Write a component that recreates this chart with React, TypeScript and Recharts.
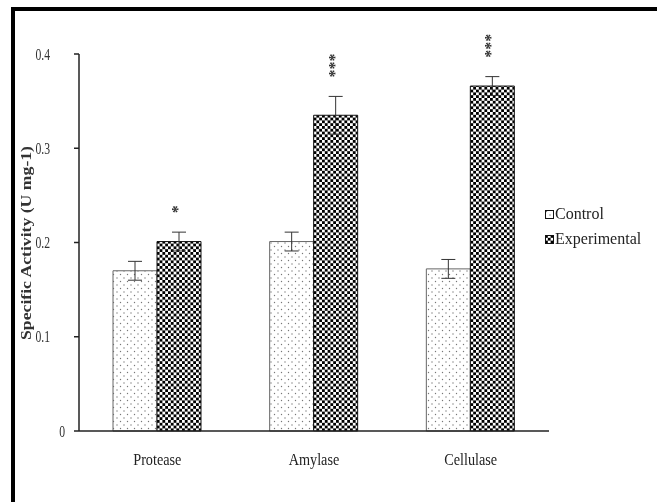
import { BarChart, Bar, XAxis, YAxis, ErrorBar, LabelList } from 'recharts';

const categories = ['Protease', 'Amylase', 'Cellulase'];
const controlValues = [0.17, 0.201, 0.172];
const controlErrors = [0.01, 0.01, 0.01];
const experimentalValues = [0.201, 0.335, 0.366];
const experimentalErrors = [0.01, 0.02, 0.01];
const significance = ['*', '***', '***'];
const yTicks = [0, 0.1, 0.2, 0.3, 0.4];
const seriesNames = ['Control', 'Experimental'];

const data = categories.map((name, i) => ({
  name,
  control: controlValues[i],
  controlErr: controlErrors[i],
  experimental: experimentalValues[i],
  experimentalErr: experimentalErrors[i],
  sig: significance[i],
}));

const serif = '"Liberation Serif", "Times New Roman", serif';

const YTick = (props: any) => {
  const { x, y, payload } = props;
  const label = String(payload.value);
  const dx = label === '0' ? -7 : -22;
  return (
    <text
      x={x + dx}
      y={y}
      dy={5}
      textAnchor="end"
      fontFamily={serif}
      fontSize={15}
      fill="#333"
      transform={`translate(${x + dx} ${y}) scale(0.78 1.15) translate(${-(x + dx)} ${-y})`}
    >
      {label}
    </text>
  );
};

const XTick = (props: any) => {
  const { x, y, payload } = props;
  const ty = y + 26;
  return (
    <text
      x={x}
      y={ty}
      textAnchor="middle"
      fontFamily={serif}
      fontSize={15}
      fill="#222"
      transform={`translate(${x} ${ty}) scale(0.95 1.12) translate(${-x} ${-ty})`}
    >
      {payload.value}
    </text>
  );
};

const Stars = (props: any) => {
  const { x, y, width, height, index } = props;
  const sig = significance[index];
  if (!sig) return null;
  const pxPerUnit = height / experimentalValues[index];
  const errTop = y - experimentalErrors[index] * pxPerUnit;
  const ax = x + width / 2 + 4;
  const ay = errTop - 19;
  return (
    <text
      x={ax}
      y={ay}
      transform={`rotate(-90 ${ax} ${ay})`}
      fontFamily={serif}
      fontSize={16}
      fontWeight="bold"
      fill="#333"
    >
      {sig}
    </text>
  );
};

const YLabel = () => (
  <text
    transform="translate(26,243) rotate(-90) scale(1.18,1)"
    textAnchor="middle"
    dominantBaseline="central"
    fontFamily={serif}
    fontWeight="bold"
    fontSize={15}
    fill="#333"
  >
    Specific Activity (U mg-1)
  </text>
);

export default function App() {
  return (
    <div>
      <div
        style={{
          position: 'fixed',
          left: 11,
          top: 7,
          width: 700,
          height: 600,
          border: '4px solid #000',
        }}
      />
      <div style={{ position: 'fixed', left: 0, top: 0 }}>
        <BarChart
          width={657}
          height={502}
          data={data}
          margin={{ top: 54, right: 108, bottom: 41, left: 29 }}
          barCategoryGap={34}
          barGap={0}
        >
          <defs>
            <pattern id="dots" width="7" height="7" patternUnits="userSpaceOnUse">
              <rect width="7" height="7" fill="#fff" />
              <circle cx="1.5" cy="1.5" r="0.7" fill="#777" />
              <circle cx="5" cy="5" r="0.7" fill="#777" />
            </pattern>
            <pattern id="checker" width="5.6" height="5.6" patternUnits="userSpaceOnUse">
              <rect width="5.6" height="5.6" fill="#fff" />
              <rect width="2.8" height="2.8" fill="#000" />
              <rect x="2.8" y="2.8" width="2.8" height="2.8" fill="#000" />
            </pattern>
          </defs>
          <XAxis
            dataKey="name"
            height={30}
            tickLine={false}
            axisLine={{ stroke: '#222', strokeWidth: 1.5 }}
            tick={<XTick />}
          />
          <YAxis
            width={50}
            domain={[0, 0.4]}
            ticks={yTicks}
            tickSize={5}
            axisLine={{ stroke: '#222', strokeWidth: 1.5 }}
            tickLine={{ stroke: '#222', strokeWidth: 1.5 }}
            tick={<YTick />}
            label={<YLabel />}
          />
          <Bar
            dataKey="control"
            name={seriesNames[0]}
            fill="url(#dots)"
            stroke="#666"
            strokeWidth={1}
            isAnimationActive={false}
          >
            <ErrorBar dataKey="controlErr" width={7} stroke="#333" strokeWidth={1} direction="y" />
          </Bar>
          <Bar
            dataKey="experimental"
            name={seriesNames[1]}
            fill="url(#checker)"
            stroke="#111"
            strokeWidth={1}
            isAnimationActive={false}
          >
            <ErrorBar dataKey="experimentalErr" width={7} stroke="#333" strokeWidth={1} direction="y" />
            <LabelList dataKey="sig" content={<Stars />} />
          </Bar>
        </BarChart>
      </div>
      <div
        style={{
          position: 'fixed',
          left: 545,
          top: 206,
          fontFamily: serif,
          fontSize: 16,
          color: '#222',
          lineHeight: '16px',
        }}
      >
        {seriesNames.map((s, i) => (
          <div key={s} style={{ display: 'flex', alignItems: 'center', height: 16, marginBottom: 9 }}>
            <svg width={9} height={9} style={{ marginRight: 1 }}>
              <rect
                x={0.5}
                y={0.5}
                width={8}
                height={8}
                fill={i === 0 ? 'url(#dots)' : 'url(#checker)'}
                stroke="#111"
              />
            </svg>
            {s}
          </div>
        ))}
      </div>
    </div>
  );
}
